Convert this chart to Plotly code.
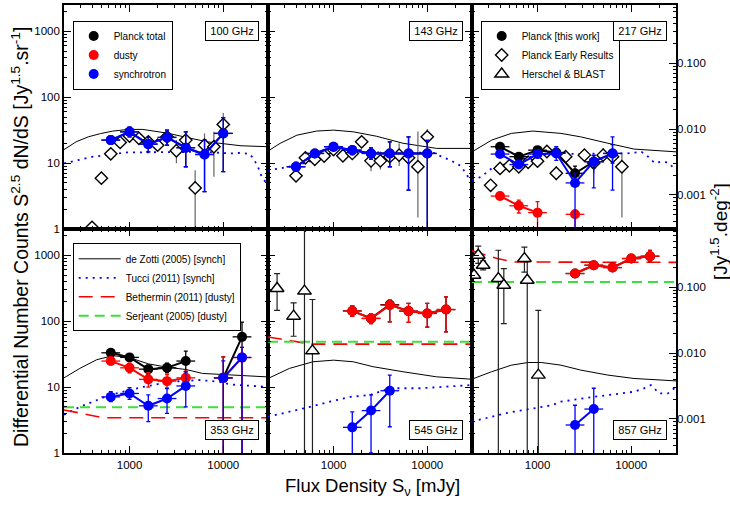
import math
import plotly.graph_objects as go

# ======================= DATA =======================
# ---- 100 GHz ----
S100 = [631, 1000, 1585, 2512, 3981, 6310, 10000]
tot100 = [22.3, 29.8, 19.4, 24.5, 17.1, 13.5, 28.2]
tot100_lo = [19.5, 25.0, 14.8, 18.7, 8.8, 3.7, 7.4]
tot100_hi = [25.5, 35.0, 24.5, 31.6, 29.8, 22.3, 49.0]
syn100 = [22.3, 29.8, 19.4, 24.5, 17.1, 13.5, 28.2]
syn100_lo = [19.5, 25.0, 14.8, 18.7, 8.8, 3.7, 7.4]
syn100_hi = [25.5, 35.0, 24.5, 31.6, 29.8, 22.3, 49.0]
ER100_S = [398, 501, 631, 794, 1000, 1259, 1585, 1995, 2512, 3162, 3981, 5012, 6310, 7943, 10000]
ER100 = [1.06, 5.9, 13.8, 20.6, 25.7, 23.7, 21.0, 18.7, 25.0, 15.4, 22.3, 4.2, 18.7, 17.7, 38.6]
ER100_lo = [0.95, 5.4, 12.8, 19.0, 24.0, 21.5, 19.0, 16.0, 21.0, 9.9, 16.0, 0.5, 12.5, 6.2, 28.2]
ER100_hi = [1.2, 6.5, 15.0, 22.5, 28.0, 26.0, 23.5, 22.0, 29.0, 22.3, 29.8, 7.8, 28.2, 29.8, 57.6]
dz100_S = [200, 269, 363, 490, 661, 955, 1380, 2512, 4074, 6761, 15488, 30200]
dz100 = [16.0, 21.0, 25.0, 28.0, 30.5, 32.4, 32.4, 28.5, 24.5, 21.0, 18.3, 17.7]
tu100_S = [200, 407, 933, 2399, 6310, 11749, 15488, 19055, 20893, 23442, 25704, 28184]
tu100 = [9.9, 12.5, 14.5, 14.8, 14.8, 14.0, 14.3, 13.8, 11.8, 8.8, 6.2, 5.2]

# ---- 143 GHz ----
S143 = [398, 631, 1000, 1585, 2512, 3981, 6310, 10000]
tot143 = [8.8, 14.0, 17.7, 15.7, 14.0, 14.0, 14.0, 14.0]
tot143_lo = [7.6, 12.5, 15.5, 13.5, 11.5, 8.8, 3.9, 0.5]
tot143_hi = [10.2, 15.7, 20.5, 18.0, 17.0, 21.0, 25.0, 22.0]
syn143 = [8.8, 14.0, 17.7, 15.7, 14.0, 14.0, 14.0, 14.0]
syn143_lo = [7.6, 12.5, 15.5, 13.5, 11.5, 8.8, 3.9, 0.5]
syn143_hi = [10.2, 15.7, 20.5, 18.0, 17.0, 21.0, 25.0, 22.0]
ER143_S = [398, 501, 631, 794, 1000, 1259, 1585, 1995, 2512, 3162, 3981, 5012, 6310, 7943, 10000]
ER143 = [6.4, 12.0, 11.4, 12.8, 16.0, 12.9, 14.0, 21.0, 10.8, 10.8, 12.5, 13.2, 12.0, 8.8, 25.0]
ER143_lo = [5.8, 11.0, 10.3, 11.5, 14.5, 10.5, 12.0, 18.0, 7.5, 8.0, 9.5, 9.0, 9.0, 1.5, 19.0]
ER143_hi = [7.0, 13.0, 12.5, 14.0, 17.5, 15.5, 16.0, 24.0, 13.0, 15.0, 16.0, 20.0, 16.0, 30.0, 33.0]
dz143_S = [200, 269, 407, 661, 1000, 1622, 2884, 5495, 12589, 28840]
dz143 = [15.2, 19.9, 26.5, 30.6, 31.6, 29.8, 25.5, 20.0, 16.7, 16.7]
tu143_S = [200, 269, 407, 661, 1000, 3162, 11749, 12589, 17783, 22909, 28840]
tu143 = [7.8, 8.3, 9.3, 11.3, 14.8, 14.5, 14.3, 13.5, 11.0, 9.0, 5.5]

# ---- 217 GHz ----
S217 = [398, 631, 1000, 1585, 2512, 3981, 6310]
tot217 = [17.7, 12.5, 15.7, 14.5, 7.0, 10.5, 14.0]
tot217_lo = [16.0, 11.0, 14.0, 13.0, 5.5, 8.5, 10.0]
tot217_hi = [19.5, 14.0, 17.5, 16.0, 9.0, 13.0, 19.0]
syn217 = [13.7, 9.5, 13.7, 14.0, 5.0, 10.5, 14.0]
syn217_lo = [12.5, 8.5, 12.0, 11.0, 0.5, 4.2, 3.9]
syn217_hi = [15.0, 10.7, 15.5, 17.7, 7.0, 13.2, 25.0]
dust217 = [3.16, 2.25, 1.77, None, 1.67, None, None]
dust217_lo = [2.8, 1.75, 1.0, None, 0.5, None, None]
dust217_hi = [3.6, 2.75, 2.6, None, 1.94, None, None]
ER217_S = [316, 398, 501, 631, 794, 1000, 1259, 1585, 1995, 3162, 3981, 5012, 6310, 7943]
ER217 = [4.6, 8.3, 9.1, 8.8, 10.3, 10.7, 15.0, 7.0, 12.5, 13.2, 10.0, 13.2, 12.5, 8.8]
ER217_lo = [4.2, 7.6, 8.3, 8.0, 9.4, 9.8, 13.5, 5.5, 11.0, 11.5, 7.0, 10.0, 10.5, 1.5]
ER217_hi = [5.0, 9.0, 10.0, 9.7, 11.3, 11.7, 16.5, 9.0, 14.0, 15.0, 13.0, 17.0, 15.0, 14.0]
dz217_S = [200, 324, 525, 891, 1778, 2884, 5623, 10715, 30200]
dz217 = [14.8, 22.3, 28.2, 30.6, 28.2, 25.0, 20.0, 16.3, 14.8]
tu217_S = [200, 251, 324, 661, 1023, 1585, 6310, 9120, 12882, 15136, 17783, 20893, 24547, 30200]
tu217 = [5.5, 6.2, 8.3, 11.4, 13.2, 13.7, 14.0, 14.0, 14.8, 12.5, 10.0, 10.5, 10.2, 7.8]

# ---- 353 GHz ----
S353 = [631, 1000, 1585, 2512, 3981, 6310, 10000, 15849]
tot353 = [33.1, 28.2, 18.7, 19.6, 24.8, None, 13.8, 57.8]
tot353_lo = [30.0, 25.0, 15.5, 16.5, 17.0, None, 0.5, 0.5]
tot353_hi = [36.0, 31.5, 21.5, 23.0, 35.0, None, 28.7, 97.0]
dust353 = [24.8, 19.6, 13.1, 12.3, 13.8, None, 13.8, 28.0]
dust353_lo = [22.0, 16.5, 10.0, 9.5, 10.5, None, 0.5, 0.5]
dust353_hi = [28.0, 23.0, 16.5, 15.5, 17.5, None, 28.7, 40.0]
syn353 = [7.1, 8.0, 5.2, 6.7, 10.4, None, 13.8, 28.2]
syn353_lo = [6.0, 6.5, 3.0, 4.0, 5.0, None, 0.5, 0.5]
syn353_hi = [8.5, 9.8, 7.6, 9.6, 17.0, None, 25.0, 40.0]
dz353_S = [200, 295, 447, 661, 1000, 1585, 2512, 3981, 6026, 15136, 28840]
dz353 = [13.8, 19.2, 26.0, 30.0, 28.0, 22.5, 20.0, 18.5, 16.1, 14.8, 14.3]
tu353_S = [200, 295, 617, 1413, 2692, 5623, 9120, 11749, 15136, 19055, 28840]
tu353 = [3.8, 5.0, 7.6, 10.1, 12.0, 12.8, 12.0, 11.0, 10.7, 10.5, 10.1]
be353_S = [200, 295, 525, 30200]
be353 = [4.5, 4.0, 3.43, 3.43]
se353_S = [200, 30200]
se353 = [4.93, 4.93]

# ---- 545 GHz ----
S545 = [1585, 2512, 3981, 6310, 10000, 15849]
tot545 = [143, 110, 178, 142, 131, 150]
tot545_lo = [118, 92, 98, 96, 81, 69]
tot545_hi = [172, 130, 208, 186, 186, 233]
dust545 = [143, 110, 175, 142, 131, 150]
dust545_lo = [118, 92, 98, 96, 81, 69]
dust545_hi = [172, 130, 208, 186, 186, 233]
syn545_S = [1585, 2512, 3981]
syn545 = [2.45, 4.4, 8.8]
syn545_lo = [0.5, 1.0, 2.5]
syn545_hi = [4.2, 7.6, 15.2]
HB545_S = [250, 375, 490, 596]
HB545 = [313, 119, 286, 35.5]
HB545_lo = [146, 59, 0.5, 0.5]
HB545_hi = [526, 189, 5000, 213]
dz545_S = [200, 339, 603, 1000, 1622, 2630, 5495, 12589, 28840]
dz545 = [13.5, 19.2, 24.2, 25.6, 24.2, 20.4, 17.1, 14.3, 13.2]
tu545_S = [200, 347, 513, 912, 1514, 2455, 3981, 8511, 16218, 28840]
tu545 = [3.55, 4.2, 4.86, 6.0, 7.1, 7.6, 9.6, 9.6, 10.1, 10.7]
be545_S = [200, 513, 575, 30200]
be545 = [57.6, 46.0, 44.8, 44.8]
se545_S = [200, 30200]
se545 = [48.5, 48.5]

# ---- 857 GHz ----
S857 = [2512, 3981, 6310, 10000, 15849]
tot857 = [528, 705, 650, 891, 966]
tot857_lo = [470, 640, 590, 800, 800]
tot857_hi = [590, 770, 720, 990, 1180]
dust857 = [528, 705, 650, 891, 966]
dust857_lo = [470, 640, 590, 800, 800]
dust857_hi = [590, 770, 720, 990, 1180]
syn857_S = [2512, 3981]
syn857 = [2.66, 4.64]
syn857_lo = [0.5, 0.5]
syn857_hi = [5.3, 9.6]
HB857_S = [210, 233, 263, 382, 437, 725, 777, 1020]
HB857 = [497, 1000, 705, 443, 351, 891, 418, 15.2]
HB857_lo = [450, 750, 600, 0.5, 92, 555, 0.5, 0.5]
HB857_hi = [550, 1370, 820, 1190, 627, 1330, 800, 146]
dz857_S = [200, 324, 525, 794, 1096, 1778, 2884, 5623, 10715, 30200]
dz857 = [13.2, 17.1, 21.5, 23.6, 23.6, 21.5, 18.1, 15.2, 13.5, 12.4]
tu857_S = [200, 447, 1413, 1778, 3981, 7079, 10715, 13490, 16218, 19953, 24547, 30200]
tu857 = [2.98, 4.0, 5.3, 6.0, 7.1, 8.0, 8.5, 9.5, 10.7, 8.0, 8.0, 10.1]
be857_S = [200, 295, 372, 562, 30200]
be857 = [1164, 1000, 891, 790, 780]
se857_S = [200, 30200]
se857 = [394, 394]

freq_labels = ["100 GHz", "143 GHz", "217 GHz", "353 GHz", "545 GHz", "857 GHz"]
X_RANGE = [200, 30000]
Y_RANGE = [1, 2500]
SR_TO_DEG2 = (math.pi / 180.0) ** 2

# ======================= STYLE =======================
BLACK, RED, BLUE, GREEN = "black", "#ff0000", "#0000ff", "#3ce03c"
FONT = "Liberation Sans, Arial, Helvetica, sans-serif"

fig = go.Figure()


def ax(p):
    return ("x" if p == 0 else f"x{p+1}"), ("y" if p == 0 else f"y{p+1}")


def errs(v, lo, hi):
    plus = [None if a is None else b - a for a, b in zip(v, hi)]
    minus = [None if a is None else a - b for a, b in zip(v, lo)]
    return plus, minus


def xerrs(S):
    return ([s * (10 ** 0.1 - 1) for s in S], [s * (1 - 10 ** -0.1) for s in S])


def model(p, S, v, color, dash, width, name=None, legend=None, rank=None):
    xa, ya = ax(p)
    fig.add_trace(go.Scatter(
        x=S, y=v, mode="lines", xaxis=xa, yaxis=ya,
        line=dict(color=color, dash=dash, width=width),
        name=name or "", showlegend=legend is not None,
        legend=legend or "legend", legendrank=rank or 1000, hoverinfo="skip"))


def planck(p, S, v, lo, hi, color, name=None, legend=None, rank=None):
    xa, ya = ax(p)
    fig.add_trace(go.Scatter(
        x=S, y=v, mode="lines", xaxis=xa, yaxis=ya, connectgaps=False,
        line=dict(color=color, width=2), showlegend=False, hoverinfo="skip"))
    ep, em = errs(v, lo, hi)
    xp, xm = xerrs(S)
    fig.add_trace(go.Scatter(
        x=S, y=v, mode="markers", xaxis=xa, yaxis=ya,
        marker=dict(color=color, size=10, symbol="circle"),
        error_y=dict(type="data", array=ep, arrayminus=em, color=color, thickness=1.3, width=2),
        error_x=dict(type="data", array=xp, arrayminus=xm, color=color, thickness=1.3, width=0),
        name=name or "", showlegend=legend is not None,
        legend=legend or "legend", legendrank=rank or 1000, hoverinfo="skip"))


def ext(p, S, v, lo, hi, symbol, ecolor, size, name=None, legend=None, rank=None):
    xa, ya = ax(p)
    ep, em = errs(v, lo, hi)
    fig.add_trace(go.Scatter(
        x=S, y=v, mode="markers", xaxis=xa, yaxis=ya,
        marker=dict(color="white", size=size, symbol=symbol, line=dict(color="black", width=1.4)),
        error_y=dict(type="data", array=ep, arrayminus=em, color=ecolor, thickness=1.2,
                     width=3 if "triangle" in symbol else 0),
        name=name or "", showlegend=legend is not None,
        legend=legend or "legend", legendrank=rank or 1000, hoverinfo="skip"))


DZ = dict(color=BLACK, dash="solid", width=1)
TU = dict(color=BLUE, dash="2px,5px", width=1.8)
BE = dict(color=RED, dash="14px,8px", width=1.6)
SE = dict(color=GREEN, dash="10px,6px", width=2)

# ---- panel 0 : 100 GHz
model(0, dz100_S, dz100, **DZ)
model(0, tu100_S, tu100, **TU)
ext(0, ER100_S, ER100, ER100_lo, ER100_hi, "diamond", "#666666", 9.5,
    "Planck Early Results", "legend2", 2)
planck(0, S100, tot100, tot100_lo, tot100_hi, BLACK, "Planck total", "legend", 1)
planck(0, S100, syn100, syn100_lo, syn100_hi, BLUE, "synchrotron", "legend", 3)

# ---- panel 1 : 143 GHz
model(1, dz143_S, dz143, **DZ)
model(1, tu143_S, tu143, **TU)
ext(1, ER143_S, ER143, ER143_lo, ER143_hi, "diamond", "#666666", 9.5)
planck(1, S143, tot143, tot143_lo, tot143_hi, BLACK)
planck(1, S143, syn143, syn143_lo, syn143_hi, BLUE)

# ---- panel 2 : 217 GHz
model(2, dz217_S, dz217, **DZ)
model(2, tu217_S, tu217, **TU)
ext(2, ER217_S, ER217, ER217_lo, ER217_hi, "diamond", "#666666", 9.5)
planck(2, S217, tot217, tot217_lo, tot217_hi, BLACK, "Planck [this work]", "legend2", 1)
planck(2, S217, dust217, dust217_lo, dust217_hi, RED, "dusty", "legend", 2)
planck(2, S217, syn217, syn217_lo, syn217_hi, BLUE)

# ---- panel 3 : 353 GHz
model(3, dz353_S, dz353, **DZ, name="de Zotti (2005) [synch]", legend="legend3", rank=1)
model(3, tu353_S, tu353, **TU, name="Tucci (2011) [synch]", legend="legend3", rank=2)
model(3, be353_S, be353, **BE, name="Bethermin (2011) [dusty]", legend="legend3", rank=3)
model(3, se353_S, se353, **SE, name="Serjeant (2005) [dusty]", legend="legend3", rank=4)
planck(3, S353, tot353, tot353_lo, tot353_hi, BLACK)
planck(3, S353, dust353, dust353_lo, dust353_hi, RED)
planck(3, S353, syn353, syn353_lo, syn353_hi, BLUE)

# ---- panel 4 : 545 GHz
model(4, dz545_S, dz545, **DZ)
model(4, tu545_S, tu545, **TU)
model(4, be545_S, be545, **BE)
model(4, se545_S, se545, **SE)
ext(4, HB545_S, HB545, HB545_lo, HB545_hi, "triangle-up", "#222222", 12,
    "Herschel & BLAST", "legend2", 3)
planck(4, S545, tot545, tot545_lo, tot545_hi, BLACK)
planck(4, S545, dust545, dust545_lo, dust545_hi, RED)
planck(4, syn545_S, syn545, syn545_lo, syn545_hi, BLUE)

# ---- panel 5 : 857 GHz
model(5, dz857_S, dz857, **DZ)
model(5, tu857_S, tu857, **TU)
model(5, be857_S, be857, **BE)
model(5, se857_S, se857, **SE)
ext(5, HB857_S, HB857, HB857_lo, HB857_hi, "triangle-up", "#222222", 12)
planck(5, S857, tot857, tot857_lo, tot857_hi, BLACK)
planck(5, S857, dust857, dust857_lo, dust857_hi, RED)
planck(5, syn857_S, syn857, syn857_lo, syn857_hi, BLUE)

# empty traces to activate the right-hand (per deg^2) axes
fig.add_trace(go.Scatter(x=[], y=[], xaxis="x3", yaxis="y7", showlegend=False, hoverinfo="skip"))
fig.add_trace(go.Scatter(x=[], y=[], xaxis="x6", yaxis="y8", showlegend=False, hoverinfo="skip"))

# ======================= AXES =======================
L, R, T, B = 64, 54, 5, 57
W, H = 730, 510
PW, PH = W - L - R, H - T - B
xr = [math.log10(X_RANGE[0]), math.log10(X_RANGE[1])]
yr = [math.log10(Y_RANGE[0]), math.log10(Y_RANGE[1])]
layout_axes = {}
annotations = []
for p in range(6):
    row, col = divmod(p, 3)
    xa = "xaxis" if p == 0 else f"xaxis{p+1}"
    ya = "yaxis" if p == 0 else f"yaxis{p+1}"
    common = dict(type="log", showgrid=False, zeroline=False, showline=True, automargin=False,
                  linecolor="black", linewidth=1.6, ticks="inside", ticklen=7,
                  tickwidth=1, tickcolor="black", dtick=1, tickformat="d",
                  minor=dict(ticks="inside", ticklen=3.5, tickcolor="black", tickwidth=1, showgrid=False),
                  tickfont=dict(size=11.5, color="black", family=FONT))
    layout_axes[xa] = dict(common, domain=[col / 3, (col + 1) / 3], range=xr,
                           anchor=ax(p)[1], showticklabels=(row == 1), mirror="ticks")
    layout_axes[ya] = dict(common, domain=[0.5, 1] if row == 0 else [0, 0.5], range=yr,
                           anchor=ax(p)[0], showticklabels=(col == 0),
                           mirror=True if col == 2 else "ticks")
    # frequency label box
    xr_px = L + PW * (col + 1) / 3 - 9
    annotations.append(dict(
        text=freq_labels[p], xref="paper", yref="paper",
        x=(xr_px - L) / PW, xanchor="right",
        y=((PH - 15.7) / PH if row == 0 else 13 / PH),
        yanchor="top" if row == 0 else "bottom",
        showarrow=False, bordercolor="black", borderwidth=1, borderpad=3,
        bgcolor="white", width=46, font=dict(size=11, family=FONT, color="black")))

off = math.log10(SR_TO_DEG2)
for name, base, xanc in (("yaxis7", "y3", "x3"), ("yaxis8", "y6", "x6")):
    layout_axes[name] = dict(type="log", overlaying=base, anchor=xanc, side="right",
                             automargin=False,
                             range=[yr[0] + off, yr[1] + off], showgrid=False, zeroline=False,
                             showline=False, ticks="inside", ticklen=7, tickwidth=1,
                             tickcolor="black", dtick=1, tickformat=".3f",
                             minor=dict(ticks="inside", ticklen=3.5, tickcolor="black", showgrid=False),
                             tickfont=dict(size=11.5, color="black", family=FONT))

annotations += [
    dict(text="Differential Number Counts S<sup>2.5</sup> dN/dS [Jy<sup>1.5</sup>.sr<sup>-1</sup>]",
         xref="paper", yref="paper", x=(20 - L) / PW, y=(PH - (237 - T)) / PH,
         xanchor="center", yanchor="middle",
         textangle=-90, showarrow=False, font=dict(size=19.5, family=FONT, color="black")),
    dict(text="[Jy<sup>1.5</sup>.deg<sup>-2</sup>]",
         xref="paper", yref="paper", x=(719 - L) / PW, y=(PH - (232 - T)) / PH,
         xanchor="center", yanchor="middle",
         textangle=-90, showarrow=False, font=dict(size=19, family=FONT, color="black")),
    dict(text="Flux Density S<sub>ν</sub> [mJy]",
         xref="paper", yref="paper", x=(372 - L) / PW, y=(PH - (487 - T)) / PH,
         xanchor="center", yanchor="middle",
         showarrow=False, font=dict(size=18.5, family=FONT, color="black")),
]

leg_common = dict(bordercolor="black", borderwidth=1, bgcolor="white",
                  font=dict(size=10, family=FONT, color="black"),
                  xanchor="left", yanchor="top", tracegroupgap=0, traceorder="normal")
fig.update_layout(
    template="none",
    width=W, height=H, margin=dict(l=L, r=R, t=T, b=B, autoexpand=False),
    paper_bgcolor="white", plot_bgcolor="white",
    font=dict(family=FONT, color="black"),
    showlegend=True,
    legend=dict(leg_common, x=(72.7 - L) / PW, y=(PH - (20.5 - T)) / PH, itemwidth=30),
    legend2=dict(leg_common, x=(480.7 - L) / PW, y=(PH - (20.5 - T)) / PH, itemwidth=30),
    legend3=dict(leg_common, x=(72.7 - L) / PW, y=(PH - (243.3 - T)) / PH, itemwidth=42),
    annotations=annotations,
    **layout_axes,
)

fig.write_html("out.html", config={"displayModeBar": False},
               post_script="document.body.style.margin='0px';")
